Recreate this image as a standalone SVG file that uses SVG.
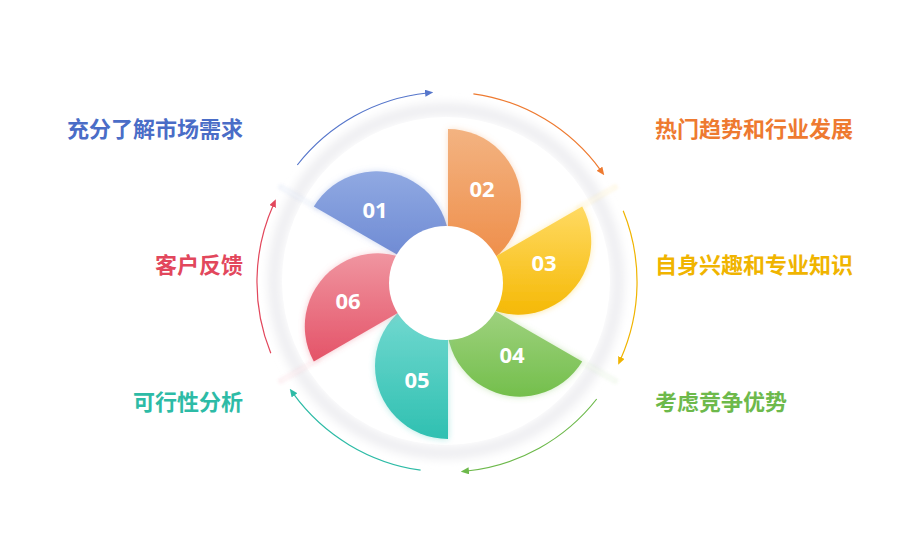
<svg xmlns="http://www.w3.org/2000/svg" width="904" height="540" viewBox="0 0 904 540">
  <style>
    .lbl { font-family: "Noto Sans CJK SC", "Microsoft YaHei", sans-serif; font-size: 22px; font-weight: 700; }
    .num { font-family: "Open Sans", "Liberation Sans", sans-serif; font-size: 22px; font-weight: 700; fill: #ffffff; text-anchor: middle; }
    .arc { fill: none; stroke-width: 1.2; }
    .div { stroke-width: 5; stroke-opacity: 0.10; filter: url(#soft); }
    .gap { stroke: #ffffff; stroke-width: 2; stroke-opacity: 0.8; filter: url(#soft); }
  </style>
  <defs>
    <filter id="ringblur" x="-20%" y="-20%" width="140%" height="140%">
      <feGaussianBlur stdDeviation="4"/>
    </filter>
    <filter id="soft" x="-50%" y="-50%" width="200%" height="200%">
      <feGaussianBlur stdDeviation="1.5"/>
    </filter>
    <filter id="glow" x="-20%" y="-20%" width="140%" height="140%">
      <feGaussianBlur in="SourceGraphic" stdDeviation="3" result="b"/>
      <feColorMatrix in="b" type="matrix" values="1 0 0 0 0  0 1 0 0 0  0 0 1 0 0  0 0 0 0.4 0" result="bb"/>
      <feMerge><feMergeNode in="bb"/><feMergeNode in="SourceGraphic"/></feMerge>
    </filter>
    <linearGradient id="g01" x1="0" y1="0" x2="0" y2="1"><stop offset="0" stop-color="#90A9E2"/><stop offset="1" stop-color="#6683D0"/></linearGradient>
    <linearGradient id="g02" x1="0" y1="0" x2="0" y2="1"><stop offset="0" stop-color="#F3B381"/><stop offset="1" stop-color="#EE8A44"/></linearGradient>
    <linearGradient id="g03" x1="0" y1="0" x2="0" y2="1"><stop offset="0" stop-color="#FFDA62"/><stop offset="1" stop-color="#F5B906"/></linearGradient>
    <linearGradient id="g04" x1="0" y1="0" x2="0" y2="1"><stop offset="0" stop-color="#A9D68B"/><stop offset="1" stop-color="#74BF4C"/></linearGradient>
    <linearGradient id="g05" x1="0" y1="0" x2="0" y2="1"><stop offset="0" stop-color="#7BDCD4"/><stop offset="1" stop-color="#2FC0B1"/></linearGradient>
    <linearGradient id="g06" x1="0" y1="0" x2="0" y2="1"><stop offset="0" stop-color="#F095A0"/><stop offset="1" stop-color="#E45368"/></linearGradient>
    <marker id="mB" markerWidth="8" markerHeight="7" refX="2" refY="3.5" orient="auto" markerUnits="userSpaceOnUse"><path d="M0,0 L8,3.5 L0,7 z" fill="#5676CB"/></marker>
    <marker id="mO" markerWidth="8" markerHeight="7" refX="2" refY="3.5" orient="auto" markerUnits="userSpaceOnUse"><path d="M0,0 L8,3.5 L0,7 z" fill="#EE7A30"/></marker>
    <marker id="mY" markerWidth="8" markerHeight="7" refX="2" refY="3.5" orient="auto" markerUnits="userSpaceOnUse"><path d="M0,0 L8,3.5 L0,7 z" fill="#F0B400"/></marker>
    <marker id="mG" markerWidth="8" markerHeight="7" refX="2" refY="3.5" orient="auto" markerUnits="userSpaceOnUse"><path d="M0,0 L8,3.5 L0,7 z" fill="#6DB94B"/></marker>
    <marker id="mT" markerWidth="8" markerHeight="7" refX="2" refY="3.5" orient="auto" markerUnits="userSpaceOnUse"><path d="M0,0 L8,3.5 L0,7 z" fill="#2DBBA6"/></marker>
    <marker id="mR" markerWidth="8" markerHeight="7" refX="2" refY="3.5" orient="auto" markerUnits="userSpaceOnUse"><path d="M0,0 L8,3.5 L0,7 z" fill="#E2475C"/></marker>
  </defs>

  <rect width="904" height="540" fill="#ffffff"/>

  <!-- outer ring with soft shadow -->
  <g id="ring">
    <circle cx="446" cy="281" r="172" fill="none" stroke="#efeff2" stroke-width="13" filter="url(#ringblur)"/>
    <circle cx="446" cy="281" r="164" fill="#ffffff"/>
    <line class="div" x1="448" y1="88" x2="448" y2="134" stroke="#EE8A44"/>
    <line class="div" x1="577" y1="209" x2="617" y2="186" stroke="#F5B906"/>
    <line class="div" x1="577" y1="359" x2="617" y2="382" stroke="#74BF4C"/>
    <line class="div" x1="448" y1="434" x2="448" y2="478" stroke="#2FC0B1"/>
    <line class="div" x1="319" y1="359" x2="279" y2="382" stroke="#E45368"/>
    <line class="div" x1="319" y1="209" x2="279" y2="186" stroke="#6683D0"/>
    <line class="gap" x1="448" y1="90" x2="448" y2="132"/>
    <line class="gap" x1="579" y1="208" x2="615" y2="187"/>
    <line class="gap" x1="579" y1="360" x2="615" y2="381"/>
    <line class="gap" x1="448" y1="436" x2="448" y2="476"/>
    <line class="gap" x1="317" y1="360" x2="281" y2="381"/>
    <line class="gap" x1="317" y1="208" x2="281" y2="187"/>
  </g>

  <!-- connectors: circular arrows -->
  <g id="connectors">
    <path class="arc" stroke="#EE7A30" marker-end="url(#mO)" d="M473.4,93.8 A190,190 0 0 1 600.7,170.3"/>
    <path class="arc" stroke="#F0B400" marker-end="url(#mY)" d="M623.2,210.8 A190,190 0 0 1 620.6,359.3"/>
    <path class="arc" stroke="#6DB94B" marker-end="url(#mG)" d="M596.7,399.0 A190,190 0 0 1 466.9,471.0"/>
    <path class="arc" stroke="#2DBBA6" marker-end="url(#mT)" d="M420.6,470.2 A190,190 0 0 1 293.3,393.7"/>
    <path class="arc" stroke="#E2475C" marker-end="url(#mR)" d="M270.8,353.2 A190,190 0 0 1 273.4,204.7"/>
    <path class="arc" stroke="#5676CB" marker-end="url(#mB)" d="M297.3,165.0 A190,190 0 0 1 427.1,93.0"/>
  </g>

  <!-- petals -->
  <g id="node-01">
    <path d="M440.2,279.5 L313.8,206.5 A73,73 0 0 1 440.2,279.5 Z" fill="url(#g01)" filter="url(#glow)"/>
    <text class="num" x="375" y="218">01</text>
  </g>
  <g id="node-02">
    <path d="M448,275 L448,129 A73,73 0 0 1 448,275 Z" fill="url(#g02)" filter="url(#glow)"/>
    <text class="num" x="482" y="197">02</text>
  </g>
  <g id="node-03">
    <path d="M455.8,279.5 L582.2,206.5 A73,73 0 0 1 455.8,279.5 Z" fill="url(#g03)" filter="url(#glow)"/>
    <text class="num" x="544" y="271">03</text>
  </g>
  <g id="node-04">
    <path d="M455.8,288.5 L582.2,361.5 A73,73 0 0 1 455.8,288.5 Z" fill="url(#g04)" filter="url(#glow)"/>
    <text class="num" x="512" y="363">04</text>
  </g>
  <g id="node-05">
    <path d="M448,293 L448,439 A73,73 0 0 1 448,293 Z" fill="url(#g05)" filter="url(#glow)"/>
    <text class="num" x="417" y="388">05</text>
  </g>
  <g id="node-06">
    <path d="M440.2,288.5 L313.8,361.5 A73,73 0 0 1 440.2,288.5 Z" fill="url(#g06)" filter="url(#glow)"/>
    <text class="num" x="348" y="309">06</text>
  </g>

  <g id="center">
    <circle cx="446" cy="283" r="57" fill="#ffffff"/>
  </g>

  <!-- labels -->
  <g id="label-01"><text class="lbl" x="243" y="137" text-anchor="end" fill="#4A6DC7">充分了解市场需求</text></g>
  <g id="label-06"><text class="lbl" x="243" y="273" text-anchor="end" fill="#E2475C">客户反馈</text></g>
  <g id="label-05"><text class="lbl" x="243" y="410" text-anchor="end" fill="#2DBBA6">可行性分析</text></g>
  <g id="label-02"><text class="lbl" x="655" y="137" fill="#EE7A30">热门趋势和行业发展</text></g>
  <g id="label-03"><text class="lbl" x="655" y="273" fill="#F0B400">自身兴趣和专业知识</text></g>
  <g id="label-04"><text class="lbl" x="655" y="410" fill="#6DB94B">考虑竞争优势</text></g>
</svg>
